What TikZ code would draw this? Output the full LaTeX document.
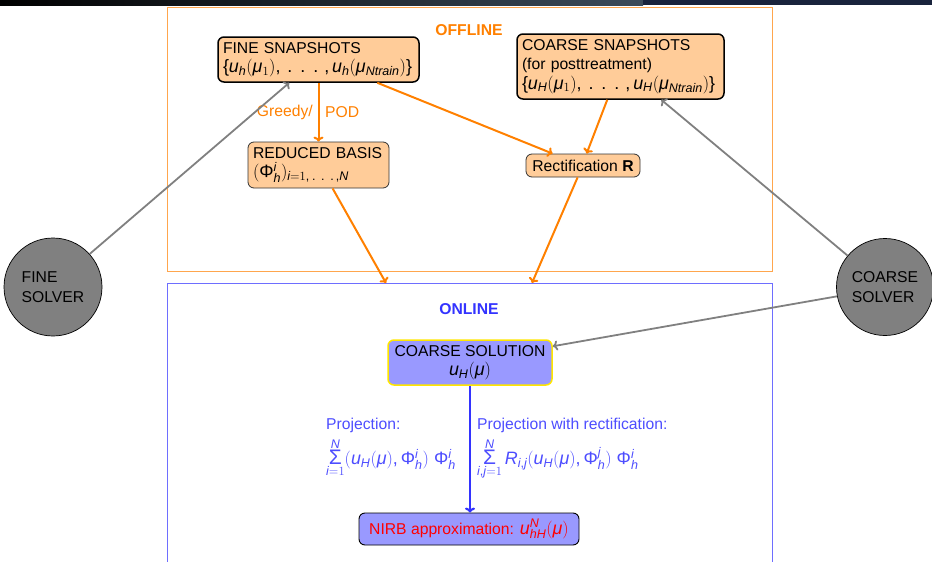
\RequirePackage{fix-cm}
\documentclass[tikz,border=0pt]{standalone}
\usepackage{fontspec}
\setmainfont{Liberation Sans}
\newfontfamily\lsans{Liberation Sans}[NFSSFamily=lsans]
\DeclareSymbolFont{sansit}{TU}{lsans}{m}{it}
\DeclareSymbolFont{sansup}{TU}{lsans}{m}{n}
\DeclareMathSymbol{u}{\mathalpha}{sansit}{`u}
\DeclareMathSymbol{h}{\mathalpha}{sansit}{`h}
\DeclareMathSymbol{H}{\mathalpha}{sansit}{`H}
\DeclareMathSymbol{N}{\mathalpha}{sansit}{`N}
\DeclareMathSymbol{R}{\mathalpha}{sansit}{`R}
\DeclareMathSymbol{i}{\mathalpha}{sansit}{`i}
\DeclareMathSymbol{j}{\mathalpha}{sansit}{`j}
\DeclareMathSymbol{t}{\mathalpha}{sansit}{`t}
\DeclareMathSymbol{r}{\mathalpha}{sansit}{`r}
\DeclareMathSymbol{a}{\mathalpha}{sansit}{`a}
\DeclareMathSymbol{n}{\mathalpha}{sansit}{`n}
\DeclareMathSymbol{1}{\mathalpha}{sansup}{`1}
\DeclareMathSymbol{(}{\mathopen}{sansup}{`(}
\DeclareMathSymbol{)}{\mathclose}{sansup}{`)}
\DeclareMathSymbol{,}{\mathpunct}{sansup}{`,}
\DeclareMathSymbol{.}{\mathord}{sansup}{`.}
\DeclareMathSymbol{=}{\mathrel}{sansup}{`=}
\DeclareMathSymbol{\slb}{\mathopen}{sansup}{`\{}
\DeclareMathSymbol{\srb}{\mathclose}{sansup}{`\}}
\AtBeginDocument{\Umathchardef\Phi="0 \symsansup "03A6\relax
  \Umathchardef\mu="0 \symsansit "03BC\relax}
\newcommand\sdots{\mathinner{\mkern4mu.\mkern8mu.\mkern8mu.\mkern3mu}}
\newcommand\ssum{\mathop{\hbox{\fontsize{21}{21}\selectfont\char"03A3}}\limits}
\newcommand\mth[1]{{\fontsize{17.9}{19.5}\selectfont$#1$}}
\usetikzlibrary{calc,arrows.meta}
\definecolor{orangeline}{RGB}{255,128,0}
\definecolor{orangeframe}{RGB}{255,166,77}
\definecolor{boxfill}{RGB}{255,204,153}
\definecolor{bluefill}{RGB}{153,153,255}
\definecolor{blueframe}{RGB}{110,110,255}
\definecolor{labelblue}{RGB}{51,51,255}
\definecolor{projblue}{RGB}{77,77,255}
\definecolor{arrowblue}{RGB}{51,51,255}
\definecolor{nirbred}{RGB}{255,0,0}
\definecolor{solvergray}{RGB}{128,128,128}
\definecolor{barmid}{RGB}{60,75,90}
\definecolor{barnavy}{RGB}{25,35,60}
\definecolor{solyellow}{RGB}{255,230,0}
\begin{document}
\begin{tikzpicture}[x=1pt,y=-1pt,
  font=\fontsize{15.7}{19.5}\selectfont,
  snapbox/.style={draw=black, line width=1.5pt, rounded corners=6pt, fill=boxfill, align=left, inner xsep=5pt, inner ysep=2pt},
  basebox/.style={draw=black!80, line width=0.8pt, rounded corners=6pt, fill=boxfill, align=left, inner xsep=5pt, inner ysep=2pt},
  solbox/.style={draw=solyellow, line width=1.5pt, rounded corners=6pt, fill=bluefill, align=center, inner sep=2pt},
  nirbbox/.style={draw=black, line width=0.9pt, rounded corners=6pt, fill=bluefill, inner sep=2pt},
  solver/.style={circle, draw=black, line width=0.7pt, fill=solvergray, align=left, inner sep=0pt},
  orarrow/.style={draw=orangeline, line width=2pt, -{To[length=5pt,width=10pt]}},
  grayarrow/.style={draw=solvergray, line width=1.8pt, -{To[length=5pt,width=10pt]}},
  bluearrow/.style={draw=arrowblue, line width=2.2pt, -{To[length=5pt,width=10pt]}},
  tag/.style={inner sep=0pt}
]
\useasboundingbox (0,0) rectangle (932,562);
% top bar
\shade[left color=black, right color=barmid] (0,0) rectangle (643,5);
\fill[barnavy] (643,0) rectangle (932,5);

% frames
\draw[orangeframe, line width=1pt] (167,7) rectangle (772,271);
\draw[blueframe, line width=1pt] (167,570) -- (167,283) -- (772,283) -- (772,570);
\coordinate (onA) at (386,283);
\coordinate (onB) at (532,283);

\node[tag, font={\fontsize{15.7}{19.5}\selectfont\bfseries}, text=orangeline] (offlab) at (469,30) {OFFLINE};
\node[tag, font={\fontsize{15.7}{19.5}\selectfont\bfseries}, text=labelblue] (onlab) at (469,309) {ONLINE};

% offline boxes
\node[snapbox, text width=191pt, minimum height=45pt] (fsnap) at (318.5,59.5)
  {FINE SNAPSHOTS\\ \mth{\slb u_h(\mu_1),\sdots,u_h(\mu_{Ntrain})\srb}};
\node[basebox, text width=131pt, minimum height=46pt] (rbasis) at (318.5,165)
  {REDUCED BASIS\\ \mth{(\Phi_h^i)_{i=1,\sdots,N}}};
\node[snapbox, text width=197pt, minimum height=65pt] (csnap) at (620.5,66.5)
  {COARSE SNAPSHOTS\\ (for posttreatment)\\ \mth{\slb u_H(\mu_1),\sdots,u_H(\mu_{Ntrain})\srb}};
\node[basebox, minimum width=114pt, minimum height=23pt] (rect) at (583,165.5)
  {Rectification \textbf{R}};

% solvers
\node[solver, minimum size=98pt] (fsolver) at (53,287) {FINE\\SOLVER};
\node[solver, minimum size=97pt] (csolver) at (885,287) {COARSE\\SOLVER};

% online boxes
\node[solbox, minimum width=164pt, minimum height=45pt] (csol) at (470,362.5)
  {COARSE SOLUTION\\ \mth{u_H(\mu)}};
\node[nirbbox, minimum width=220pt, minimum height=32pt] (nirb) at (469,529)
  {\color{nirbred}NIRB approximation: \mth{u_{hH}^N(\mu)}};

% orange arrows
\draw[orarrow] (fsnap.south) -- (rbasis.north);
\node[tag, anchor=east, text=orangeline] (greedy) at (313,112) {Greedy/};
\node[tag, anchor=west, text=orangeline] (pod) at (325,112) {POD};
\draw[orarrow] ($(fsnap.south west)+(160,0)$) -- ($(rect.north west)+(27,0)$);
\draw[orarrow] ($(csnap.south west)+(91,0)$) -- ($(rect.north west)+(61,0)$);
\draw[orarrow] ($(rect.south west)+(52,0)$) -- (onB);
\draw[orarrow] ($(rbasis.south west)+(85,0)$) -- (onA);

% gray arrows
\draw[grayarrow] (fsolver.42) -- ($(fsnap.south west)+(72,0)$);
\draw[grayarrow] (csolver.140) -- ($(csnap.south west)+(145,0)$);
\draw[grayarrow] (csolver.191) -- ($(csol.north east)+(0,7)$);

% blue arrow
\draw[bluearrow] (csol.south) -- (csol.south |- nirb.north);

% projection labels
\node[tag, anchor=north west, align=left, text=projblue] (proj1) at (326,418)
  {Projection:\\[5pt] \mth{\ssum_{i=1}^{N}(u_H(\mu),\Phi_h^i)\;\Phi_h^i}};
\node[tag, anchor=north west, align=left, text=projblue] (proj2) at (477,418)
  {Projection with rectification:\\[5pt] \mth{\ssum_{i,j=1}^{N}R_{i,j}(u_H(\mu),\Phi_h^j)\;\Phi_h^i}};
\end{tikzpicture}
\end{document}
